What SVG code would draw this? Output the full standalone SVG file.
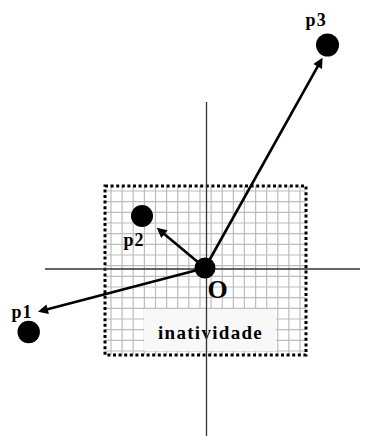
<svg xmlns="http://www.w3.org/2000/svg" width="366" height="436" viewBox="0 0 366 436">
<defs>
<style>
.grid line{stroke:#bdbdbd;stroke-width:1.2}
.axis{stroke:#333;stroke-width:1.3}
.arrow{stroke:#000;stroke-width:2.6;fill:none;marker-end:url(#ah)}
.dot{fill:#000}
.lbl{font-family:"Liberation Serif","Times New Roman",serif;font-weight:bold;fill:#000}
</style>
<marker id="ah" viewBox="0 0 10 10" refX="5" refY="5" markerWidth="12" markerHeight="10" markerUnits="userSpaceOnUse" orient="auto">
<path d="M0,0 L10,5 L0,10 Z" fill="#000"/>
</marker>
</defs>
<rect width="366" height="436" fill="#fff"/>
<g id="zone">
<g class="grid">
<line x1="111" y1="186" x2="111" y2="355"/>
<line x1="122.1" y1="186" x2="122.1" y2="355"/>
<line x1="133.2" y1="186" x2="133.2" y2="355"/>
<line x1="144.4" y1="186" x2="144.4" y2="355"/>
<line x1="155.5" y1="186" x2="155.5" y2="355"/>
<line x1="166.6" y1="186" x2="166.6" y2="355"/>
<line x1="177.7" y1="186" x2="177.7" y2="355"/>
<line x1="188.8" y1="186" x2="188.8" y2="355"/>
<line x1="200" y1="186" x2="200" y2="355"/>
<line x1="211.1" y1="186" x2="211.1" y2="355"/>
<line x1="222.2" y1="186" x2="222.2" y2="355"/>
<line x1="233.3" y1="186" x2="233.3" y2="355"/>
<line x1="244.4" y1="186" x2="244.4" y2="355"/>
<line x1="255.6" y1="186" x2="255.6" y2="355"/>
<line x1="266.7" y1="186" x2="266.7" y2="355"/>
<line x1="277.8" y1="186" x2="277.8" y2="355"/>
<line x1="288.9" y1="186" x2="288.9" y2="355"/>
<line x1="300" y1="186" x2="300" y2="355"/>
<line x1="105" y1="191" x2="306" y2="191"/>
<line x1="105" y1="201.7" x2="306" y2="201.7"/>
<line x1="105" y1="212.3" x2="306" y2="212.3"/>
<line x1="105" y1="223" x2="306" y2="223"/>
<line x1="105" y1="233.7" x2="306" y2="233.7"/>
<line x1="105" y1="244.3" x2="306" y2="244.3"/>
<line x1="105" y1="255" x2="306" y2="255"/>
<line x1="105" y1="265.7" x2="306" y2="265.7"/>
<line x1="105" y1="276.3" x2="306" y2="276.3"/>
<line x1="105" y1="287" x2="306" y2="287"/>
<line x1="105" y1="297.7" x2="306" y2="297.7"/>
<line x1="105" y1="308.3" x2="306" y2="308.3"/>
<line x1="105" y1="319" x2="306" y2="319"/>
<line x1="105" y1="329.7" x2="306" y2="329.7"/>
<line x1="105" y1="340.3" x2="306" y2="340.3"/>
<line x1="105" y1="351" x2="306" y2="351"/>
</g>
<rect x="105" y="186" width="201" height="169" fill="none" stroke="#000" stroke-width="3" stroke-dasharray="3 2.6"/>
</g>
<g id="inatividade">
<rect x="144" y="309" width="132" height="42" fill="#f8f8f8"/>
<text class="lbl" x="158" y="339" font-size="19" letter-spacing="1.3">inatividade</text>
</g>
<g id="axes">
<line class="axis" x1="45" y1="269" x2="360" y2="269"/>
<line class="axis" x1="206.5" y1="102" x2="206.5" y2="436"/>
</g>
<g id="connectors">
<line class="arrow" x1="205" y1="268" x2="320.1" y2="62.2"/>
<line class="arrow" x1="205" y1="268" x2="160.6" y2="230.9"/>
<line class="arrow" x1="205" y1="268" x2="42.8" y2="310.5"/>
</g>
<g id="O">
<circle class="dot" cx="205" cy="268" r="10.5"/>
<text class="lbl" x="207.5" y="297.5" font-size="26">O</text>
</g>
<g id="p1">
<circle class="dot" cx="28.7" cy="332" r="11.2"/>
<text class="lbl" x="11.5" y="317.5" font-size="18" letter-spacing="1">p1</text>
</g>
<g id="p2">
<circle class="dot" cx="142" cy="216" r="11"/>
<text class="lbl" x="123.5" y="245.5" font-size="18" letter-spacing="1">p2</text>
</g>
<g id="p3">
<circle class="dot" cx="327.5" cy="45" r="11.5"/>
<text class="lbl" x="305.5" y="25.5" font-size="18" letter-spacing="1.2">p3</text>
</g>
</svg>
